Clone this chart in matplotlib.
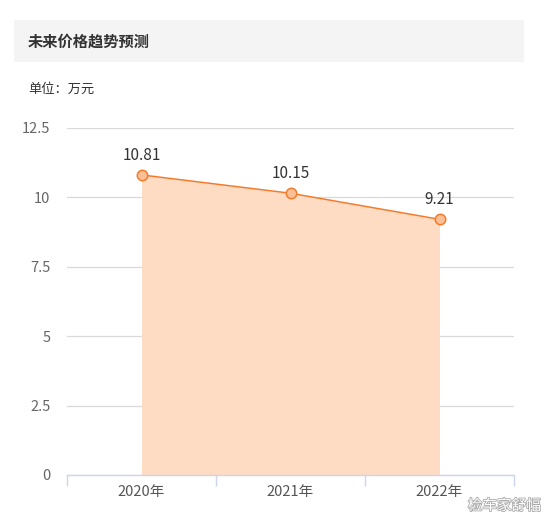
import matplotlib
matplotlib.use("Agg")
import matplotlib.pyplot as plt
import matplotlib.patheffects as pe
from matplotlib.patches import Rectangle

plt.rcParams['font.family'] = ['Noto Sans CJK SC', 'DejaVu Sans']

categories = ["2020年", "2021年", "2022年"]
values = [10.81, 10.15, 9.21]
y_ticks = [0, 2.5, 5, 7.5, 10, 12.5]
y_tick_labels = ["0", "2.5", "5", "7.5", "10", "12.5"]
title = "未来价格趋势预测"
unit = "单位：万元"
watermark = "检车家舒幅"

W, H = 544, 521
fig = plt.figure(figsize=(W / 100, H / 100), dpi=100)

def fx(px):
    return px / W

def fy(py):
    return 1 - py / H

# header box
fig.patches.append(Rectangle((fx(14), fy(62)), fx(524) - fx(14), fy(20) - fy(62),
                             transform=fig.transFigure, facecolor='#f4f4f4',
                             edgecolor='none', zorder=0))
fig.text(fx(28), fy(42), title, fontsize=11, fontweight='bold', color='#333333',
         va='center', ha='left')
fig.text(fx(28), fy(89), unit, fontsize=9.5, color='#333333', va='center', ha='left')

left, right, top, bottom = 67, 514, 128, 475
ax = fig.add_axes([fx(left), fy(bottom), fx(right) - fx(left), fy(top) - fy(bottom)])
ax.set_xlim(-0.5, len(categories) - 0.5)
ax.set_ylim(0, 12.5)

x = list(range(len(categories)))
ax.fill_between(x, values, 0, color='#fddcc3', linewidth=0, zorder=1)
ax.plot(x, values, color='#f57b2c', linewidth=1.1, zorder=3)
ax.plot(x, values, linestyle='none', marker='o', markersize=7.5,
        markerfacecolor='#fbbf95', markeredgecolor='#f57b2c', markeredgewidth=1.1, zorder=4)
for xi, v in zip(x, values):
    ax.annotate(f"{v:.2f}", (xi, v), xytext=(0, 8), textcoords='offset points',
                ha='center', va='bottom', fontsize=11, color='#333333', zorder=5)

ax.set_yticks(y_ticks)
ax.set_yticklabels(y_tick_labels)
ax.yaxis.grid(True, color='#d9d9d9', linewidth=0.9)
ax.set_axisbelow(True)
ax.tick_params(axis='y', length=0, pad=12, labelsize=10.5, labelcolor='#666666')

ax.set_xticks(x)
ax.set_xticklabels(categories)
ax.tick_params(axis='x', length=0, pad=7, labelsize=10.5, labelcolor='#555555')
ax.set_xticks([-0.5, 0.5, 1.5, 2.5], minor=True)
ax.tick_params(axis='x', which='minor', length=8, color='#ccd6eb', width=1)

for s in ['top', 'right', 'left']:
    ax.spines[s].set_visible(False)
ax.spines['bottom'].set_color('#ccd6eb')
ax.spines['bottom'].set_linewidth(1)

fig.text(fx(541), fy(506), watermark, fontsize=10.5, color='white', ha='right', va='center',
         path_effects=[pe.withStroke(linewidth=1.2, foreground='#aaaaaa')])

fig.savefig("out.png", dpi=100)
